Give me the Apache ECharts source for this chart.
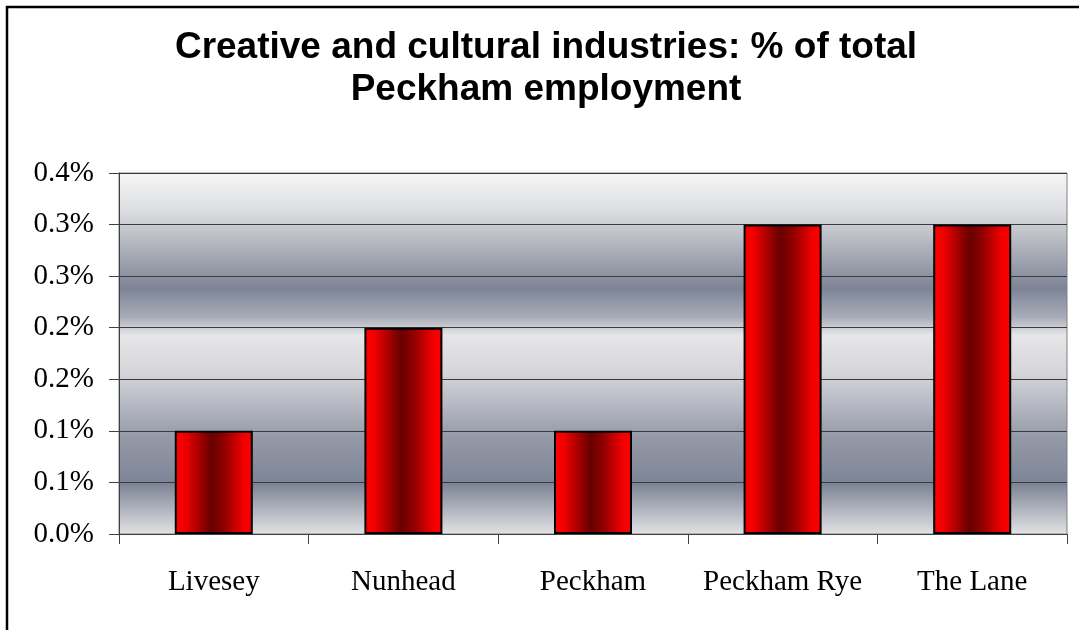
<!DOCTYPE html>
<html>
<head>
<meta charset="utf-8">
<script src="https://cdn.jsdelivr.net/npm/echarts@6/dist/echarts.min.js"></script>
<style>
  html, body { margin: 0; padding: 0; background: #ffffff; }
  #chart { width: 1079px; height: 630px; }
</style>
</head>
<body>
<div id="chart"></div>
<script>
// Ward names along the x axis
var categories = ['Livesey', 'Nunhead', 'Peckham', 'Peckham Rye', 'The Lane'];
// Creative and cultural industries share of employment, in percent
var shareValues = [0.1, 0.2, 0.1, 0.3, 0.3];
// Value-axis tick labels (one decimal place, as printed)
var tickLabels = ['0.0%', '0.1%', '0.1%', '0.2%', '0.2%', '0.3%', '0.3%', '0.4%'];

var chart = echarts.init(document.getElementById('chart'), null, { renderer: 'canvas' });

var plotBackground = new echarts.graphic.LinearGradient(0, 0, 0, 1, [
  { offset: 0.00, color: '#f7f7f7' },
  { offset: 0.10, color: '#dedfe2' },
  { offset: 0.20, color: '#b2b5be' },
  { offset: 0.32, color: '#7d8496' },
  { offset: 0.40, color: '#a9adb8' },
  { offset: 0.45, color: '#e6e6e8' },
  { offset: 0.55, color: '#d6d6da' },
  { offset: 0.63, color: '#babdc6' },
  { offset: 0.73, color: '#959aa8' },
  { offset: 0.86, color: '#7d8496' },
  { offset: 1.00, color: '#e3e3e5' }
]);

var barFill = new echarts.graphic.LinearGradient(0, 0, 1, 0, [
  { offset: 0.00, color: '#ff0000' },
  { offset: 0.12, color: '#f40000' },
  { offset: 0.47, color: '#680000' },
  { offset: 0.62, color: '#8c0000' },
  { offset: 0.88, color: '#f00000' },
  { offset: 1.00, color: '#ff0000' }
]);

var option = {
  backgroundColor: '#ffffff',
  animation: false,
  title: {
    text: 'Creative and cultural industries: % of total\nPeckham employment',
    left: 541,
    top: 22,
    textAlign: 'center',
    textStyle: {
      fontFamily: 'Liberation Sans, Arial, sans-serif',
      fontWeight: 'bold',
      fontSize: 37,
      lineHeight: 42,
      color: '#000000'
    }
  },
  graphic: [{
    type: 'rect',
    shape: { x: 7, y: 7, width: 1200, height: 800 },
    style: { fill: 'none', stroke: '#000000', lineWidth: 2.5 },
    silent: true,
    z: 100
  }],
  grid: {
    left: 119,
    right: 12,
    top: 173,
    bottom: 96,
    show: true,
    backgroundColor: plotBackground,
    borderColor: '#808080',
    borderWidth: 1
  },
  xAxis: {
    type: 'category',
    data: categories,
    axisLine: { show: true, lineStyle: { color: '#404040', width: 1 } },
    axisTick: { show: true, length: 10, interval: 0, alignWithLabel: false, lineStyle: { color: '#404040' } },
    axisLabel: {
      interval: 0,
      margin: 34,
      fontFamily: 'Liberation Serif, Times New Roman, serif',
      fontSize: 29,
      color: '#000000'
    },
    splitLine: { show: false }
  },
  yAxis: {
    type: 'value',
    min: 0,
    max: 0.35,
    interval: 0.05,
    axisLine: { show: true, lineStyle: { color: '#404040', width: 1 } },
    axisTick: { show: true, length: 10, lineStyle: { color: '#404040' } },
    axisLabel: {
      margin: 25,
      fontFamily: 'Liberation Serif, Times New Roman, serif',
      fontSize: 29,
      color: '#000000',
      formatter: function (v) {
        return tickLabels[Math.round(v / 0.05)];
      }
    },
    splitLine: { show: true, lineStyle: { color: '#3a3a3a', width: 1.2 } }
  },
  series: [{
    type: 'bar',
    data: shareValues,
    barWidth: 78,
    itemStyle: {
      color: barFill,
      borderColor: '#000000',
      borderWidth: 2
    }
  }]
};

chart.setOption(option);
</script>
</body>
</html>
